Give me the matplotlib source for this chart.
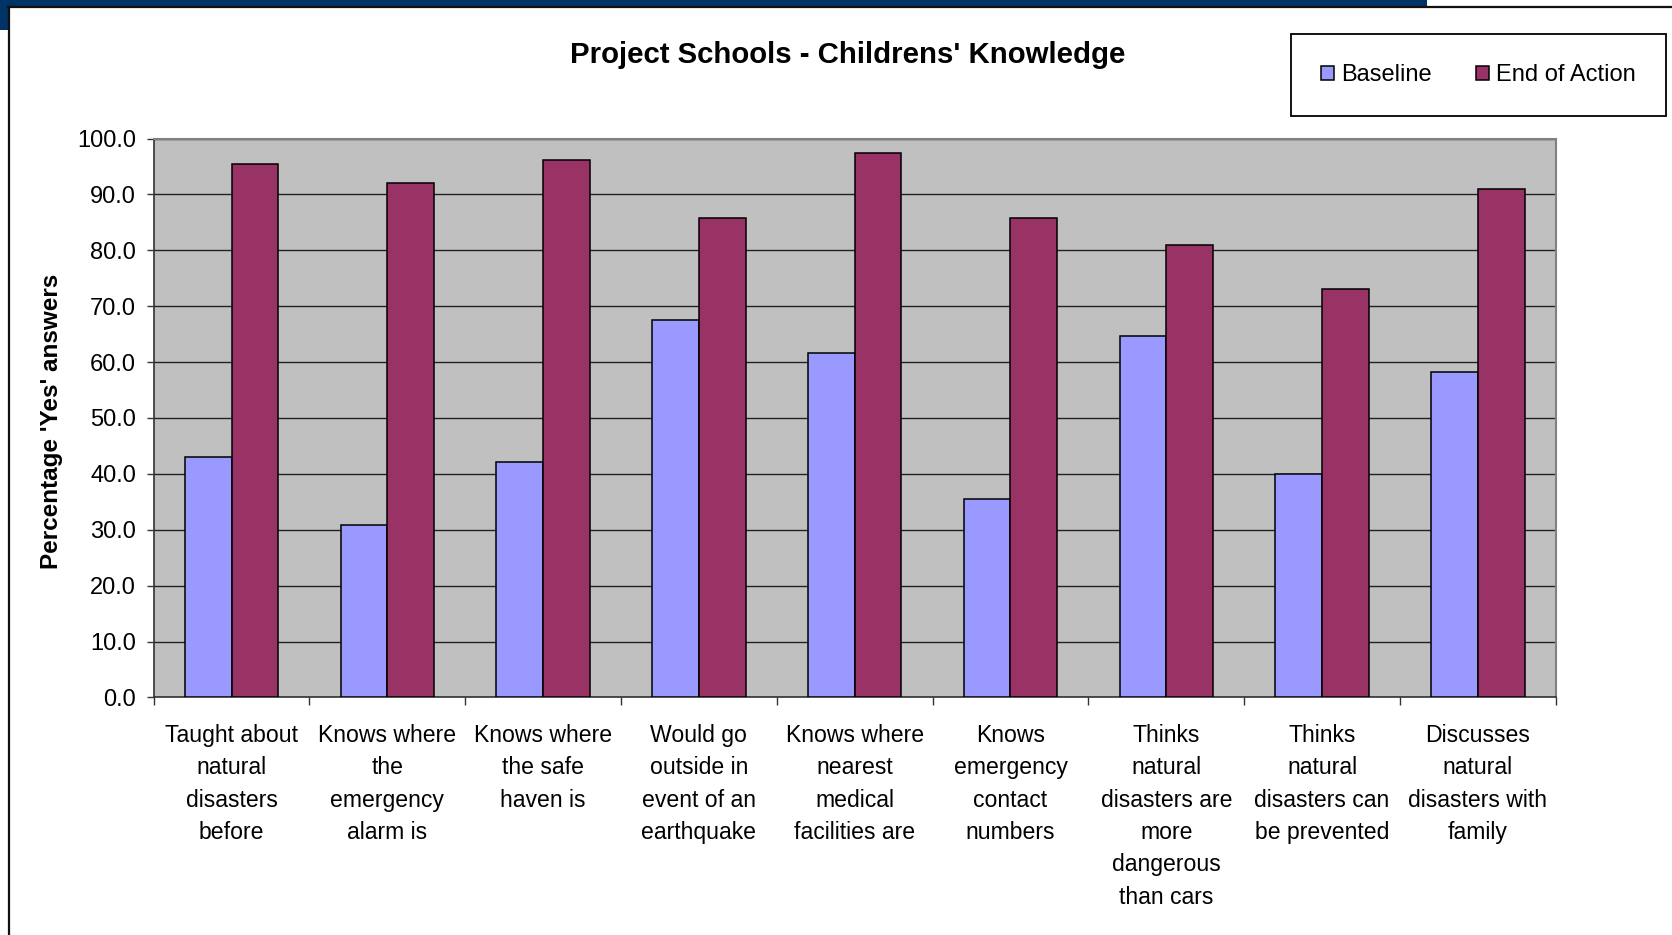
import numpy as np
import matplotlib.pyplot as plt
from matplotlib.patches import Rectangle
from matplotlib.lines import Line2D

plt.rcParams['font.family'] = ['Liberation Sans', 'DejaVu Sans']

categories = [
    "Taught about\nnatural\ndisasters\nbefore",
    "Knows where\nthe\nemergency\nalarm is",
    "Knows where\nthe safe\nhaven is",
    "Would go\noutside in\nevent of an\nearthquake",
    "Knows where\nnearest\nmedical\nfacilities are",
    "Knows\nemergency\ncontact\nnumbers",
    "Thinks\nnatural\ndisasters are\nmore\ndangerous\nthan cars",
    "Thinks\nnatural\ndisasters can\nbe prevented",
    "Discusses\nnatural\ndisasters with\nfamily",
]
baseline = [43.1, 30.9, 42.2, 67.6, 61.7, 35.5, 64.7, 40.0, 58.2]
end_of_action = [95.5, 92.0, 96.1, 85.8, 97.5, 85.8, 81.0, 73.0, 91.0]
yticks = [0, 10, 20, 30, 40, 50, 60, 70, 80, 90, 100]

W, H = 1672, 935
fig = plt.figure(figsize=(W / 100, H / 100), dpi=100)
fig.patch.set_facecolor('white')

# slide frame around the chart
fig.add_artist(Rectangle((0, 1 - 6 / H), 1427 / W, 6 / H, transform=fig.transFigure,
                         facecolor='#003366', edgecolor='none'))
fig.add_artist(Rectangle((0, 1 - 30 / H), 8 / W, 30 / H, transform=fig.transFigure,
                         facecolor='#003366', edgecolor='none'))
fig.add_artist(Line2D([8 / W, 1], [1 - 6.5 / H, 1 - 6.5 / H], transform=fig.transFigure,
                      color='#111111', lw=1.6))
fig.add_artist(Line2D([9 / W, 9 / W], [0, 1 - 6.5 / H], transform=fig.transFigure,
                      color='#111111', lw=1.6))

left, right, top, bottom = 153.6, 1555.8, 138.6, 697.4
ax = fig.add_axes([left / W, 1 - bottom / H, (right - left) / W, (bottom - top) / H])
ax.set_facecolor('#C0C0C0')

x = np.arange(len(categories))
w = 0.3
ax.bar(x - w / 2, baseline, w, color='#9999FF', edgecolor='black', linewidth=1.1,
       label='Baseline', zorder=3)
ax.bar(x + w / 2, end_of_action, w, color='#993366', edgecolor='black', linewidth=1.1,
       label='End of Action', zorder=3)

ax.set_xlim(-0.5, len(categories) - 0.5)
ax.set_ylim(0, 100)
ax.set_yticks(yticks)
ax.set_yticklabels([f"{v:.1f}" for v in yticks], fontsize=17)
ax.yaxis.grid(True, color='#222222', linewidth=1.0, zorder=1)
ax.set_axisbelow(True)
ax.tick_params(axis='y', direction='out', length=5, width=1, pad=7.5, color='#333333')

# x ticks sit on category boundaries, labels at the centres
ax.set_xticks(np.arange(len(categories) + 1) - 0.5)
ax.set_xticklabels([])
ax.tick_params(axis='x', which='major', direction='out', length=5.5, width=1, color='#333333')
ax.set_xticks(x, minor=True)
ax.set_xticklabels(categories, minor=True, fontsize=16.6, linespacing=1.52, va='top')
ax.tick_params(axis='x', which='minor', length=0, pad=19)

for s in ['top', 'right']:
    ax.spines[s].set_color('#808080')
    ax.spines[s].set_linewidth(1.5)
for s in ['left', 'bottom']:
    ax.spines[s].set_color('#333333')
    ax.spines[s].set_linewidth(1.2)

fig.text(848 / W, 1 - 55 / H, "Project Schools - Childrens' Knowledge", fontsize=21.2,
         fontweight='bold', ha='center', va='center')
fig.text(52 / W, 1 - 421 / H, "Percentage 'Yes' answers", fontsize=17.5, fontweight='bold',
         rotation=90, ha='center', va='center')

leg = fig.legend(loc='upper right', bbox_to_anchor=(1666 / W, 1 - 34 / H), ncol=2,
                 fontsize=17, frameon=True, fancybox=False, framealpha=1,
                 edgecolor='black', borderpad=1.28, borderaxespad=0,
                 handlelength=0.55, handleheight=0.55, handletextpad=0.3,
                 columnspacing=1.88)
leg.get_frame().set_linewidth(1.3)

fig.savefig('out.png', dpi=100)
